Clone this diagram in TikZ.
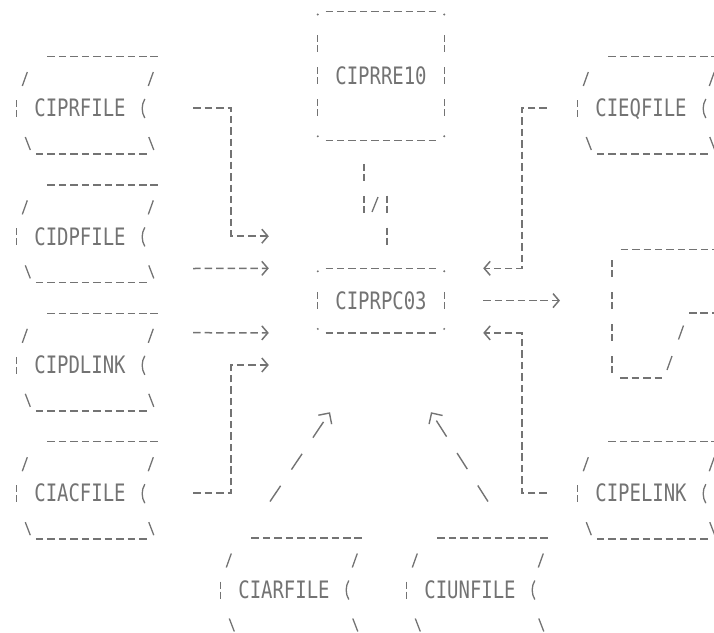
\documentclass[tikz,border=0pt]{standalone}
\usepackage{fontspec}
\newfontfamily\dotfont[FakeStretch=0.79]{DejaVu Sans Mono}
\usetikzlibrary{arrows.meta}
\definecolor{ink}{gray}{0.45}

\begin{document}
\begin{tikzpicture}[x=1pt, y=-1pt,
    hdash/.style={draw=ink, line width=1.5pt, dash pattern=on 7.5pt off 3.95pt},
    bar/.style={draw=ink, line width=1.3pt, dash pattern=on 7pt off 3pt on 7pt off 15.1pt},
    glyph/.style={draw=ink, line width=1.3pt},
    flow/.style={hdash, -{Straight Barb[length=6pt, width=14pt]}},
    slant/.style={draw=ink, line width=1.4pt, dash pattern=on 19pt off 19.5pt, -{Straight Barb[length=8pt, width=16pt]}},
    fname/.style={font=\dotfont\fontsize{24pt}{24pt}\selectfont, text=ink, minimum width=126pt, text height=17.5pt, text depth=0pt, inner sep=0pt}]
    \useasboundingbox (0,0) rectangle (714,632);
    \clip (0,0) rectangle (714,632);

    \node[fname, minimum height=128.4pt] (prre) at (381,75.9) {CIPRRE10};
    \node[fname, minimum height=64.2pt] (prpc) at (381,300.6) {CIPRPC03};
    \foreach \bx in {prre,prpc} {
        \draw[hdash] ([xshift=7.7pt]\bx.north west) -- ++(110.55,0);
        \draw[hdash] ([xshift=7.7pt]\bx.south west) -- ++(110.55,0);
        \draw[bar] ([yshift=-23.6pt]\bx.north west) -- ([yshift=15pt]\bx.south west);
        \draw[bar] ([yshift=-23.6pt]\bx.north east) -- ([yshift=15pt]\bx.south east);
        \foreach \c/\d in {north west/-3pt, north east/-3pt, south west/4pt, south east/4pt}
            \fill[ink] ([yshift=\d]\bx.\c) circle (1.1pt);
    }

    \foreach \nm/\lbl/\x/\y in {prfile/CIPRFILE/80/108, dpfile/CIDPFILE/80/236.4,
        pdlink/CIPDLINK/80/364.8, acfile/CIACFILE/80/493.2, eqfile/CIEQFILE/641/108,
        pelink/CIPELINK/641/493.2, arfile/CIARFILE/284/589.5, unfile/CIUNFILE/470/589.5} {
        \node[fname] (\nm) at (\x,\y) {\lbl};
        \begin{scope}[shift={(\nm.west)}]
            \draw[hdash] (30.6,-51.5) -- ++(110.55,0);
            \draw[hdash] (19.15,46) -- ++(110.55,0);
            \draw[glyph] (5.5,-22) -- (10.5,-36) (131.5,-22) -- (136.5,-36);
            \draw[glyph] (8.5,29) -- (13.5,42) (132,29) -- (137,42);
            \draw[glyph] (128,-9) .. controls (124.5,-3) and (124.5,4) .. (128,10);
            \draw[bar] (0,-8) -- (0,9);
        \end{scope}
    }

    \coordinate (disp) at (612,300.6);
    \draw[hdash] (620.6,249.5) -- (720,249.5);
    \draw[bar] (612,260) -- (612,373.3);
    \draw[hdash] (620.2,378) -- ++(41.85,0);
    \draw[glyph] (667,370) -- (672,356) (678.5,339.5) -- (683.5,325.5);
    \draw[hdash] (689,313) -- (720,313);

    \draw[bar] ([shift={(-17,23.6)}]prre.south) -- ++(0,49.1);
    \draw[glyph] (372,212) -- (378,197);
    \draw[bar] ([shift={(6,-72.7)}]prpc.north) -- ++(0,49.1);

    \draw[flow] ([xshift=50pt]prfile.east) -- ++(38,0) |- ([shift={(-49,-32.1)}]prpc.north west);
    \draw[flow] ([shift={(50,32.1)}]dpfile.east) -- ([xshift=-49pt]prpc.north west);
    \draw[flow] ([shift={(50,-32.1)}]pdlink.east) -- ([xshift=-49pt]prpc.south west);
    \draw[flow] ([xshift=50pt]acfile.east) -- ++(38,0) |- ([shift={(-49,32.1)}]prpc.south west);
    \draw[flow] ([xshift=-31pt]eqfile.west) -- ++(-25,0) |- ([xshift=39pt]prpc.north east);
    \draw[flow] ([xshift=-31pt]pelink.west) -- ++(-25,0) |- ([xshift=39pt]prpc.south east);
    \draw[flow] ([xshift=39pt]prpc.east) -- ([xshift=-52pt]disp);
    \draw[slant] ([shift={(-14,-79)}]arfile.north) -- ([shift={(-51,79.3)}]prpc.south);
    \draw[slant] ([shift={(18,-79)}]unfile.north) -- ([shift={(50,79.3)}]prpc.south);
\end{tikzpicture}
\end{document}
